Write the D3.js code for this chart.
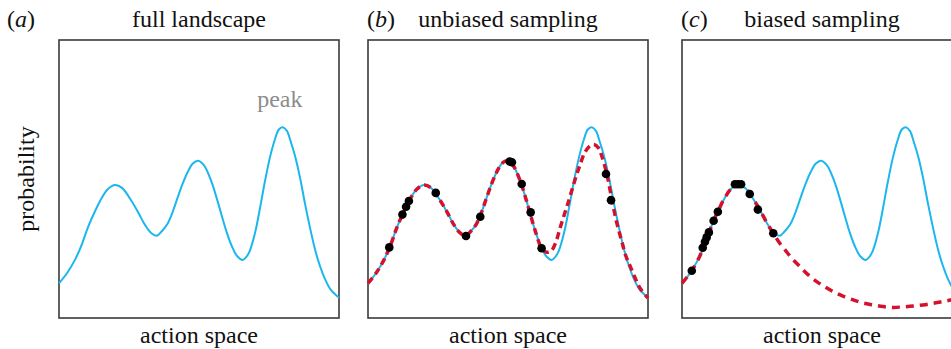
<!DOCTYPE html>
<html>
<head>
<meta charset="utf-8">
<script src="https://cdn.jsdelivr.net/npm/d3@7"></script>
<style>
  body { margin: 0; background: #fff; }
  text { font-family: "Liberation Serif", "Times New Roman", serif; fill: #111; }
</style>
</head>
<body>
<script>
// landscape (blue), action space 0-100, probability 0-100
var landX = [0, 2.9, 5.7, 8.2, 10.4, 12.9, 15.2, 17.5, 20.0, 22.5, 25.9, 28.4, 30.7, 32.9, 34.9, 36.8, 38.6, 40.5, 42.3, 44.2, 46.0, 47.8, 49.7, 51.8, 54.5, 56.3, 58.1, 59.9, 61.7, 63.6, 65.6, 67.6, 70.0, 71.8, 73.5, 75.3, 77.1, 78.5, 79.9, 81.4, 82.8, 84.3, 86.1, 87.8, 89.6, 91.4, 93.2, 95.0, 97.1, 100]
var landY = [12.5, 16.2, 20.9, 26.6, 32.8, 38.5, 43.1, 46.4, 47.8, 46.8, 42.1, 37.8, 33.5, 30.6, 29.6, 31.3, 33.6, 37.9, 43.1, 48.4, 52.6, 55.6, 56.6, 54.9, 48.9, 43.2, 36.9, 30.8, 25.9, 22.3, 20.9, 23.0, 30.6, 39.6, 48.9, 57.6, 64.2, 67.8, 68.6, 67.3, 63.3, 58.3, 50.4, 41.4, 32.7, 24.8, 18.7, 14.0, 10.1, 7.3]

// fitted estimate, unbiased sampling (red dashed)
var fitBX = [0, 2.9, 5.7, 8.2, 10.4, 12.9, 15.2, 17.5, 20.0, 22.5, 25.9, 28.4, 30.7, 32.9, 34.9, 36.8, 38.6, 40.5, 42.3, 44.2, 46.0, 47.8, 49.7, 51.8, 54.5, 56.3, 58.1, 59.9, 62.0, 63.6, 65.4, 67.1, 68.6, 70.4, 72.1, 73.9, 75.7, 77.5, 79.3, 80.7, 82.3, 83.6, 85.3, 86.8, 88.6, 90.6, 92.1, 93.6, 95.4, 97.1, 100]
var fitBY = [12.5, 16.2, 20.9, 26.6, 32.8, 38.5, 43.1, 46.4, 47.8, 46.8, 42.1, 37.8, 33.5, 30.6, 29.6, 31.3, 33.6, 37.9, 43.1, 48.4, 52.6, 55.6, 56.6, 54.9, 48.9, 43.2, 36.9, 30.8, 25.1, 23.7, 24.1, 27.3, 32.4, 38.1, 43.5, 49.6, 55.0, 59.7, 61.9, 62.4, 61.2, 57.9, 51.8, 44.2, 35.3, 27.7, 22.3, 18.7, 14.4, 10.8, 7.2]

// samples, unbiased
var sampBX = [7.6, 12.3, 13.6, 14.6, 24.2, 35.0, 40.1, 50.6, 51.4, 54.9, 58.1, 62.0, 85.0, 86.8]
var sampBY = [25.4, 37.2, 40.0, 42.1, 45.0, 29.5, 36.4, 56.3, 56.0, 48.2, 38.0, 25.1, 51.8, 42.4]

// fitted estimate, biased sampling
var fitCX = [0, 2.9, 5.7, 8.2, 10.4, 12.9, 15.2, 17.5, 20.0, 22.5, 25.9, 28.4, 30.7, 32.6, 34.6, 36.8, 39.3, 42.1, 45.0, 48.1, 51.1, 54.0, 57.5, 61.2, 64.6, 68.3, 71.8, 75.5, 78.9, 82.6, 86.1, 89.8, 92.9, 96.1, 100]
var fitCY = [12.5, 16.2, 20.9, 26.6, 32.8, 38.5, 43.1, 46.4, 47.8, 46.8, 42.1, 37.8, 33.5, 30.5, 27.3, 24.5, 21.4, 18.5, 15.6, 13.1, 11.2, 9.5, 7.9, 6.5, 5.4, 4.7, 4.1, 3.8, 4.0, 4.3, 4.7, 5.3, 5.9, 6.5, 7.4]

// samples, biased
var sampCX = [3.5, 7.4, 8.2, 8.8, 9.6, 11.3, 12.8, 18.9, 20.0, 21.1, 24.2, 27.1, 32.6]
var sampCY = [17.0, 25.3, 27.4, 29.0, 30.8, 35.0, 38.2, 48.1, 48.1, 48.1, 44.6, 39.0, 30.5]

var panels = [
  {left: 59, tagX: 7, tag: "a", title: "full landscape", fit: null, samples: null},
  {left: 368, tagX: 367, tag: "b", title: "unbiased sampling", fit: [fitBX, fitBY], samples: [sampBX, sampBY], dash: "7,4.5"},
  {left: 682, tagX: 681, tag: "c", title: "biased sampling", fit: [fitCX, fitCY], samples: [sampCX, sampCY], dash: "8,6"}
]

var W = 951, H = 349
var pw = 280, plotTop = 40, plotBottom = 318
var fs = 24

var svg = d3.select("body").append("svg")
  .attr("width", W)
  .attr("height", H)

var y = d3.scaleLinear().domain([0, 100]).range([plotBottom, plotTop])

function zip(xs, ys) {
  return xs.map(function(v, i){ return [v, ys[i]] })
}

panels.forEach(function(p){
  var x = d3.scaleLinear().domain([0, 100]).range([p.left, p.left + pw])
  var line = d3.line()
    .x(function(d){ return x(d[0]) })
    .y(function(d){ return y(d[1]) })
    .curve(d3.curveCatmullRom.alpha(0.5))

  var g = svg.append("g")

  g.append("rect")
    .attr("x", p.left)
    .attr("y", plotTop)
    .attr("width", pw)
    .attr("height", plotBottom - plotTop)
    .attr("fill", "none")
    .attr("stroke", "#3a3a3a")
    .attr("stroke-width", 1.6)

  g.append("path")
    .datum(zip(landX, landY))
    .attr("d", line)
    .attr("fill", "none")
    .attr("stroke", "#1cb6ee")
    .attr("stroke-width", 2)

  if (p.fit) {
    g.append("path")
      .datum(zip(p.fit[0], p.fit[1]))
      .attr("d", line)
      .attr("fill", "none")
      .attr("stroke", "#d4122e")
      .attr("stroke-width", 3.5)
      .attr("stroke-dasharray", p.dash)
  }

  if (p.samples) {
    g.selectAll("circle")
      .data(zip(p.samples[0], p.samples[1]))
      .enter().append("circle")
      .attr("cx", function(d){ return x(d[0]) })
      .attr("cy", function(d){ return y(d[1]) })
      .attr("r", 4.3)
      .attr("fill", "#000")
  }

  // panel tag
  var tag = svg.append("text")
    .attr("x", p.tagX)
    .attr("y", 27)
    .attr("font-size", fs)
  tag.append("tspan").text("(")
  tag.append("tspan").attr("font-style", "italic").text(p.tag)
  tag.append("tspan").text(")")

  svg.append("text")
    .attr("x", p.left + pw / 2)
    .attr("y", 27)
    .attr("text-anchor", "middle")
    .attr("font-size", fs)
    .text(p.title)

  svg.append("text")
    .attr("x", p.left + pw / 2)
    .attr("y", 343)
    .attr("text-anchor", "middle")
    .attr("font-size", fs)
    .text("action space")

  if (p.tag == "a") {
    svg.append("text")
      .attr("x", x(79.6) - 2)
      .attr("y", 107)
      .attr("text-anchor", "middle")
      .attr("font-size", fs)
      .style("fill", "#8c8c8c")
      .text("peak")
  }
})

svg.append("text")
  .attr("transform", "translate(34," + (plotTop + plotBottom) / 2 + ") rotate(-90)")
  .attr("text-anchor", "middle")
  .attr("font-size", fs)
  .text("probability")
</script>
</body>
</html>
